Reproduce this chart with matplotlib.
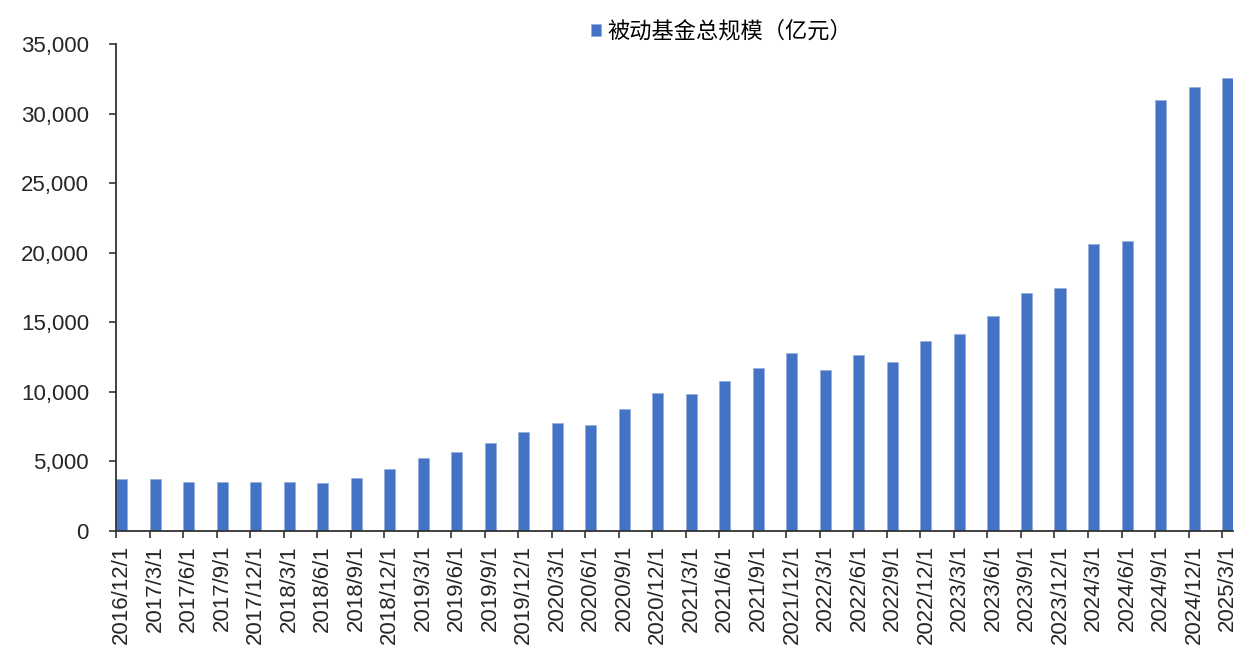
import matplotlib
matplotlib.use('Agg')
import matplotlib.pyplot as plt
from matplotlib.ticker import FuncFormatter
import numpy as np

plt.rcParams['font.family'] = ['Liberation Sans', 'DejaVu Sans']

# quarter-end dates and passive fund size (100m CNY)
dates = ['2016/12/1', '2017/3/1', '2017/6/1', '2017/9/1', '2017/12/1',
         '2018/3/1', '2018/6/1', '2018/9/1', '2018/12/1',
         '2019/3/1', '2019/6/1', '2019/9/1', '2019/12/1',
         '2020/3/1', '2020/6/1', '2020/9/1', '2020/12/1',
         '2021/3/1', '2021/6/1', '2021/9/1', '2021/12/1',
         '2022/3/1', '2022/6/1', '2022/9/1', '2022/12/1',
         '2023/3/1', '2023/6/1', '2023/9/1', '2023/12/1',
         '2024/3/1', '2024/6/1', '2024/9/1', '2024/12/1',
         '2025/3/1']
passive_size = [3730, 3760, 3520, 3550, 3510,
                3490, 3420, 3800, 4450,
                5220, 5680, 6310, 7120,
                7740, 7650, 8780, 9950,
                9850, 10790, 11680, 12820,
                11580, 12680, 12150, 13640,
                14140, 15420, 17090, 17450,
                20660, 20860, 30960, 31900,
                32580]
series_name = '被动基金总规模（亿元）'

bar_color = '#4472C4'
text_color = '#262626'
w = 0.33

fig = plt.figure(figsize=(12.57, 6.6), dpi=100)
ax = fig.add_axes([0.0923, 0.1955, 0.8887, 0.7378])

x = np.arange(len(dates))
ax.bar(x, passive_size, width=w, align='edge', color=bar_color,
       edgecolor='#8faadc', linewidth=0.4, label=series_name)

ax.set_xlim(0, len(dates) - 1 + w)
ax.set_ylim(0, 35000)
ax.set_yticks(np.arange(0, 35001, 5000))
ax.yaxis.set_major_formatter(FuncFormatter(lambda v, p: f'{v:,.0f}'))

# tick marks at the left edge of each bar, labels centred on the bar
ax.set_xticks(x)
ax.set_xticklabels([])
ax.set_xticks(x + w / 2, minor=True)
ax.set_xticklabels(dates, minor=True, rotation=90, fontsize=16, color=text_color)
ax.tick_params(axis='x', which='minor', length=0, pad=10)
ax.tick_params(axis='x', which='major', length=5, width=1.2, direction='out', color='#333333')
ax.tick_params(axis='y', length=5, width=1.2, direction='out', color='#333333',
               labelsize=16, labelcolor=text_color, pad=14.5)

for s in ['top', 'right']:
    ax.spines[s].set_visible(False)
for s in ['left', 'bottom']:
    ax.spines[s].set_color('#333333')
    ax.spines[s].set_linewidth(1.3)

h, l = ax.get_legend_handles_labels()
fig.legend(h, l, loc='center', bbox_to_anchor=(0.574, 0.953), frameon=False,
           handlelength=0.45, handleheight=0.45, handletextpad=0.3,
           prop={'family': ['Noto Sans CJK SC', 'DejaVu Sans'], 'size': 16})

fig.savefig('out.png', dpi=100)
